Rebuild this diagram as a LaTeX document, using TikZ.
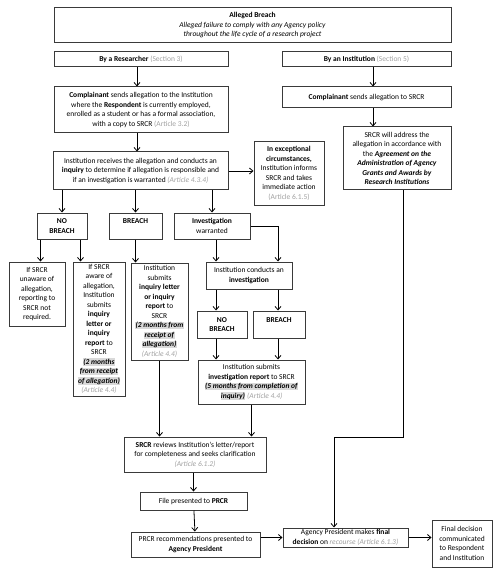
\documentclass[tikz,border=0pt]{standalone}
\usepackage{fontspec}
\setmainfont{Carlito}
\usetikzlibrary{arrows.meta}
\definecolor{notegrey}{HTML}{A0A0A0}
\definecolor{markgrey}{HTML}{D9D9D9}
\definecolor{edgegrey}{HTML}{3A3A3A}
\newcommand{\art}[1]{\textcolor{notegrey}{#1}}
\newcommand{\due}[1]{{\setlength{\fboxsep}{0.4pt}\colorbox{markgrey}{\textbf{\textit{#1}}}}}
\begin{document}
\begin{tikzpicture}[x=1pt,y=-1pt,
        font=\fontsize{7.5}{9.5}\selectfont,
        box/.style={draw=edgegrey,line width=1pt,align=center,inner sep=0.5pt},
        >={Straight Barb[length=3.5pt,width=6pt]},
        link/.style={->,line width=0.8pt}]
        \useasboundingbox (0,0) rectangle (500,577);
        % top
            \node[box,minimum width=397,minimum height=35] (breach) at (252.5,25.5)
                {\textbf{Alleged Breach}\\\textit{Alleged failure to comply with any Agency policy}\\\textit{throughout the life cycle of a research project}};
            \node[box,minimum width=174,minimum height=15] (res) at (141,59.5)
                {\textbf{By a Researcher} \art{(Section 3)}};
            \node[box,minimum width=169,minimum height=15] (inst) at (366.5,59.5)
                {\textbf{By an Institution} \art{(Section 5)}};
            \node[box,minimum width=174,minimum height=46] (compl) at (141,110)
                {\textbf{Complainant} sends allegation to the Institution\\where the \textbf{Respondent} is currently employed,\\enrolled as a student or has a formal association,\\with a copy to SRCR \art{(Article 3.2)}};
            \node[box,minimum width=169,minimum height=21] (complI) at (366.5,97.5)
                {\textbf{Complainant} sends allegation to SRCR};
            \node[box,minimum width=108,minimum height=63] (srcr) at (397,158.5)
                {SRCR will address the\\allegation in accordance with\\the \textbf{\textit{Agreement on the}}\\\textbf{\textit{Administration of Agency}}\\\textbf{\textit{Grants and Awards by}}\\\textbf{\textit{Research Institutions}}};
        % inquiry
            \node[box,minimum width=175,minimum height=38] (receives) at (140.5,171)
                {Institution receives the allegation and conducts an\\\textbf{inquiry} to determine if allegation is responsible and\\if an investigation is warranted \art{\textit{(Article 4.3.4)}}};
            \node[box,minimum width=70,minimum height=63] (except) at (289,173.5)
                {\textbf{In exceptional}\\\textbf{circumstances,}\\Institution informs\\SRCR and takes\\immediate action\\\art{(Article 6.1.5)}};
            \node[box,minimum width=50,minimum height=26] (nob1) at (62,226) {\textbf{NO}\\\textbf{BREACH}};
            \node[box,minimum width=53,minimum height=26] (br1) at (135.5,226) {\textbf{BREACH}\\~};
            \node[box,minimum width=76,minimum height=26] (invw) at (212,226) {\textbf{Investigation}\\warranted};
            \node[box,minimum width=56,minimum height=64] (unaware) at (37,294)
                {If SRCR\\unaware of\\allegation,\\reporting to\\SRCR not\\required.};
            \node[box,minimum width=52,minimum height=134] (aware) at (99,329)
                {If SRCR\\aware of\\allegation,\\Institution\\submits\\\textbf{inquiry}\\\textbf{letter or}\\\textbf{inquiry}\\\textbf{report} to\\SRCR\\\due{(2 months}\\\due{from receipt}\\\due{of allegation)}\\\art{\textit{(Article 4.4)}}};
            \node[box,minimum width=57,minimum height=97] (submits) at (159.5,311.5)
                {Institution\\submits\\\textbf{inquiry letter}\\\textbf{or inquiry}\\\textbf{report} to\\SRCR\\\due{(2 months from}\\\due{receipt of}\\\due{allegation)}\\\art{\textit{(Article 4.4)}}};
        % investigation
            \node[box,minimum width=86,minimum height=27] (conducts) at (249,275.5)
                {Institution conducts an\\\textbf{investigation}};
            \node[box,minimum width=50,minimum height=27] (nob2) at (222,324.5) {\textbf{NO}\\\textbf{BREACH}};
            \node[box,minimum width=52,minimum height=27] (br2) at (279,324.5) {\textbf{BREACH}\\~};
            \node[box,minimum width=107,minimum height=44] (invrep) at (251.5,382)
                {Institution submits\\\textbf{investigation report} to SRCR\\\due{(5 months from completion of}\\\due{inquiry)} \art{\textit{(Article 4.4)}}};
        % decision
            \node[box,minimum width=142,minimum height=35] (reviews) at (195,454.5)
                {\textbf{SRCR} reviews Institution's letter/report\\for completeness and seeks clarification\\\art{\textit{(Article 6.1.2)}}};
            \node[box,minimum width=107,minimum height=18] (file) at (193.5,501)
                {File presented to \textbf{PRCR}};
            \node[box,minimum width=129,minimum height=25] (prcr) at (195.5,544.5)
                {PRCR recommendations presented to\\\textbf{Agency President}};
            \node[box,minimum width=125,minimum height=19] (agency) at (345.5,537.5)
                {Agency President makes \textbf{final}\\\textbf{decision} on \art{\textit{recourse (Article 6.1.3)}}};
            \node[box,minimum width=60,minimum height=47] (final) at (462,543.5)
                {Final decision\\communicated\\to Respondent\\and Institution};
        % arrows
            \coordinate (colR) at (137,0);
            \coordinate (colI) at (373,0);
            \coordinate (colV) at (216,0);
            \coordinate (colB) at (278,0);
            \coordinate (knee) at (334,437);
            \draw[link] (res.south -| colR) -- (compl.north -| colR);
            \draw[link] (compl.south -| colR) -- (receives.north -| colR);
            \draw[link] (inst.south -| colI) -- (complI.north -| colI);
            \draw[link] (complI.south -| colI) -- (srcr.north -| colI);
            \draw[link] (receives.east) -- (receives.east -| except.west);
            \foreach \b in {nob1,br1,invw}{
                \draw[link] (receives.south -| \b) -- (\b);
            }
            \draw[link] ([xshift=4]nob1.south west) coordinate (nl) -- (nl |- unaware.north);
            \draw[link] ([xshift=-7]nob1.south east) coordinate (nr) -- (nr |- aware.north);
            \draw[link] (br1) -- (br1 |- submits.north);
            \draw[link] (invw.south -| colV) -- (conducts.north -| colV);
            \draw[link] (invw.east) -| (conducts.north -| colB);
            \foreach \c/\b in {colV/nob2,colB/br2}{
                \draw[link] (conducts.south -| \c) -- (\b.north -| \c);
                \draw[link] (\b.south -| \c) -- (invrep.north -| \c);
            }
            \draw[link] (invrep) -- (invrep |- reviews.north);
            \draw[link] (submits) -- (submits |- reviews.north);
            \draw[link] (reviews.south -| file) -- (file);
            \draw[link] (file) -- (prcr);
            \draw[link] (prcr.east |- agency) -- (agency.west);
            \draw[link] (agency.east) -- (agency.east -| final.west);
            \draw[link] ([xshift=6]srcr.south) |- (knee) -- (knee |- agency.north);
\end{tikzpicture}
\end{document}
